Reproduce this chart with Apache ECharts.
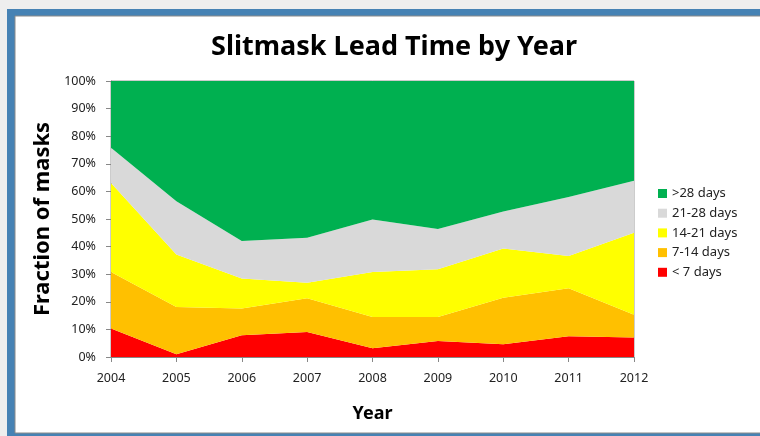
<!DOCTYPE html>
<html>
<head>
<meta charset="utf-8">
<script src="https://cdn.jsdelivr.net/npm/echarts@6/dist/echarts.min.js"></script>
<style>
html,body{margin:0;padding:0;background:#eeeeee;}
#c{width:760px;height:436px;}
</style>
</head>
<body>
<div id="c"></div>
<script>
const years = ['2004','2005','2006','2007','2008','2009','2010','2011','2012'];
const lt7   = [10.3, 1.0, 7.9, 9.1, 3.2, 5.8, 4.6, 7.5, 7.1];
const d7_14 = [20.5, 17.1, 9.7, 12.2, 11.3, 8.7, 16.9, 17.4, 8.2];
const d14_21= [32.2, 19.0, 10.8, 5.6, 16.3, 17.3, 17.8, 11.7, 29.7];
const d21_28= [12.8, 19.3, 13.6, 16.3, 19.0, 14.6, 13.4, 21.4, 18.9];
const gt28  = [24.2, 43.6, 58.0, 56.8, 50.2, 53.6, 47.3, 42.0, 36.1];
const seriesNames = ['< 7 days','7-14 days','14-21 days','21-28 days','>28 days'];
const seriesColors = ['#FF0000','#FFC000','#FFFF00','#D9D9D9','#00B050'];
const seriesData = [lt7, d7_14, d14_21, d21_28, gt28];

const chart = echarts.init(document.getElementById('c'), null, {renderer:'canvas'});
const font = '"Noto Sans", "Open Sans", sans-serif';
chart.setOption({
  animation:false,
  backgroundColor:'#eeeeee',
  graphic:[
    {type:'rect', z:-10, shape:{x:7,y:9,width:760,height:427}, style:{fill:'#4682B4'}},
    {type:'rect', z:-9, shape:{x:15,y:16,width:760,height:417}, style:{fill:'#ffffff', stroke:'#8a8a8a', lineWidth:1}}
  ],
  title:{
    text:'Slitmask Lead Time by Year',
    left:389, top:29, textAlign:'center',
    textStyle:{fontFamily:font, fontSize:27, fontWeight:'bold', color:'#000'}
  },
  legend:{
    orient:'vertical', left:653, top:182,
    itemWidth:9, itemHeight:9, itemGap:6.7,
    icon:'rect',
    data:['>28 days','21-28 days','14-21 days','7-14 days','< 7 days'],
    textStyle:{fontFamily:font, fontSize:13, color:'#222'}
  },
  grid:{left:111, right:126, top:81, bottom:79, show:true, borderColor:'#999', borderWidth:1, backgroundColor:'transparent'},
  xAxis:{
    type:'category', data:years, boundaryGap:false,
    name:'Year', nameLocation:'middle', nameGap:48,
    nameTextStyle:{fontFamily:font, fontSize:18, fontWeight:'bold', color:'#000'},
    axisLine:{lineStyle:{color:'#888'}},
    axisTick:{show:true, length:5, lineStyle:{color:'#888'}},
    axisLabel:{fontFamily:font, fontSize:12.5, color:'#222', margin:15}
  },
  yAxis:{
    type:'value', min:0, max:100, interval:10,
    name:'Fraction of masks', nameLocation:'middle', nameGap:56,
    nameTextStyle:{fontFamily:font, fontSize:22, fontWeight:'bold', color:'#000'},
    axisLine:{show:true, lineStyle:{color:'#888'}},
    axisTick:{show:true, length:5, lineStyle:{color:'#888'}},
    splitLine:{show:false},
    axisLabel:{formatter:'{value}%', fontFamily:font, fontSize:12.5, color:'#222', margin:15}
  },
  series: seriesNames.map((n,i)=>({
    name:n, type:'line', stack:'total', data:seriesData[i],
    showSymbol:false, symbol:'none',
    lineStyle:{width:0}, itemStyle:{color:seriesColors[i]},
    areaStyle:{color:seriesColors[i], opacity:1}
  }))
});
</script>
</body>
</html>
